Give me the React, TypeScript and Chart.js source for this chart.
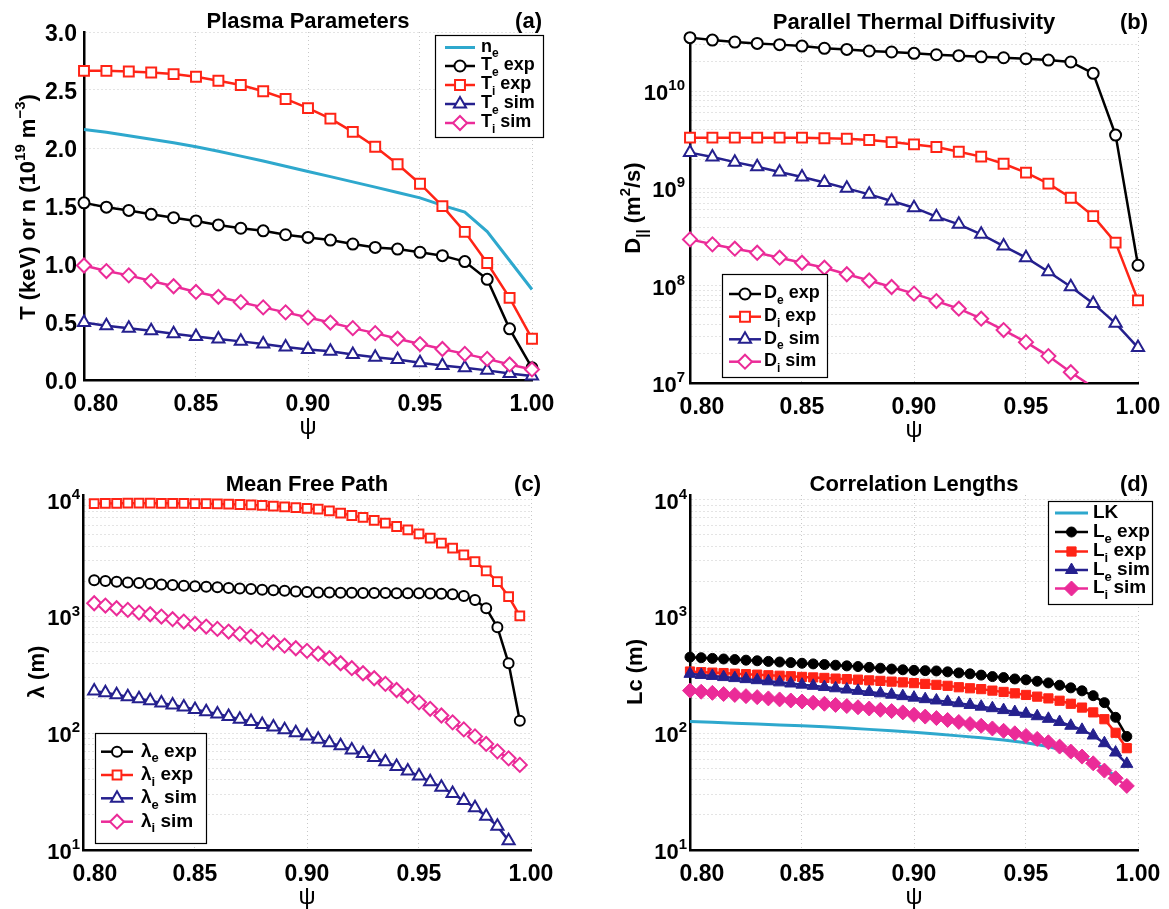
import React, { useEffect, useRef } from 'react';
import { Chart, registerables } from 'chart.js';

Chart.register(...registerables);

// ---------------- data ----------------
const psiA = [0.80, 0.81, 0.82, 0.83, 0.84, 0.85, 0.86, 0.87, 0.88, 0.89, 0.90, 0.91, 0.92, 0.93, 0.94, 0.95, 0.96, 0.97, 0.98, 0.99, 1.00];

// (a) Plasma parameters
const neA = [2.16, 2.135, 2.105, 2.075, 2.045, 2.011, 1.972, 1.93, 1.888, 1.843, 1.798, 1.753, 1.708, 1.663, 1.617, 1.57, 1.505, 1.448, 1.28, 1.03, 0.78];
const TeExpA = [1.527, 1.49, 1.462, 1.428, 1.399, 1.371, 1.337, 1.308, 1.286, 1.252, 1.229, 1.206, 1.172, 1.143, 1.129, 1.101, 1.072, 1.021, 0.868, 0.441, 0.105];
const TiExpA = [2.665, 2.665, 2.659, 2.651, 2.637, 2.614, 2.58, 2.543, 2.489, 2.423, 2.344, 2.253, 2.139, 2.011, 1.86, 1.692, 1.499, 1.277, 1.009, 0.708, 0.356];
const TeSimA = [0.495, 0.467, 0.447, 0.424, 0.398, 0.375, 0.353, 0.333, 0.31, 0.284, 0.262, 0.247, 0.219, 0.196, 0.176, 0.148, 0.125, 0.105, 0.083, 0.057, 0.034];
const TiSimA = [0.987, 0.939, 0.902, 0.853, 0.808, 0.759, 0.717, 0.671, 0.626, 0.583, 0.538, 0.495, 0.447, 0.404, 0.356, 0.31, 0.267, 0.225, 0.182, 0.134, 0.091];

// (b) Parallel thermal diffusivity
const DeExpB = [3.54e10, 3.34e10, 3.19e10, 3.09e10, 3.0e10, 2.9e10, 2.75e10, 2.68e10, 2.58e10, 2.52e10, 2.44e10, 2.36e10, 2.31e10, 2.25e10, 2.2e10, 2.15e10, 2.08e10, 1.99e10, 1.52e10, 3.53e9, 1.62e8];
const DiExpB = [3.32e9, 3.32e9, 3.32e9, 3.32e9, 3.32e9, 3.32e9, 3.27e9, 3.24e9, 3.14e9, 2.99e9, 2.83e9, 2.66e9, 2.38e9, 2.12e9, 1.79e9, 1.45e9, 1.12e9, 8.02e8, 5.19e8, 2.77e8, 7.06e7];
const DeSimB = [2.33e9, 2.1e9, 1.86e9, 1.67e9, 1.47e9, 1.31e9, 1.15e9, 1.0e9, 8.68e8, 7.41e8, 6.33e8, 5.12e8, 4.27e8, 3.37e8, 2.55e8, 1.94e8, 1.39e8, 9.77e7, 6.58e7, 4.1e7, 2.31e7];
const DiSimB = [2.99e8, 2.66e8, 2.4e8, 2.18e8, 1.94e8, 1.72e8, 1.53e8, 1.31e8, 1.13e8, 9.69e7, 8.28e7, 6.95e7, 5.8e7, 4.58e7, 3.5e7, 2.63e7, 1.89e7, 1.29e7, 9.0e6, null, null];

// (c) Mean free path
const psiC = [0.805, 0.81, 0.815, 0.82, 0.825, 0.83, 0.835, 0.84, 0.845, 0.85, 0.855, 0.86, 0.865, 0.87, 0.875, 0.88, 0.885, 0.89, 0.895, 0.90, 0.905, 0.91, 0.915, 0.92, 0.925, 0.93, 0.935, 0.94, 0.945, 0.95, 0.955, 0.96, 0.965, 0.97, 0.975, 0.98, 0.985, 0.99, 0.995];
const LeExpC = [2050, 2020, 1990, 1960, 1935, 1910, 1885, 1860, 1840, 1820, 1800, 1780, 1760, 1740, 1720, 1700, 1680, 1660, 1640, 1620, 1607, 1605, 1600, 1598, 1595, 1590, 1588, 1585, 1582, 1580, 1575, 1570, 1554, 1503, 1389, 1178, 811, 398, 128];
const LiExpC = [9300, 9320, 9340, 9350, 9350, 9350, 9340, 9330, 9310, 9290, 9260, 9220, 9180, 9120, 9040, 8950, 8840, 8720, 8580, 8440, 8318, 8050, 7690, 7340, 7060, 6660, 6310, 5910, 5530, 5110, 4690, 4250, 3850, 3380, 2960, 2460, 1995, 1485, 1014];
const LeSimC = [230, 222, 214, 206, 198, 190, 182, 175, 168, 160, 153, 146, 139, 132, 126, 119, 113, 107, 101, 95, 89, 83, 78, 72, 67, 62, 57, 52, 47.5, 43, 38.5, 34.5, 30.5, 26.5, 23, 19.5, 16, 12, null];
const LiSimC = [1300, 1242, 1178, 1140, 1082, 1047, 1000, 949, 906, 865, 821, 784, 744, 710, 674, 631, 599, 564, 535, 508, 480, 440, 398, 361, 327, 296, 265, 235, 209, 184, 162, 142, 124, 108, 94, 81, 70, 61, 53.6];

// (d) Correlation lengths
const psiD = [0.80, 0.805, 0.81, 0.815, 0.82, 0.825, 0.83, 0.835, 0.84, 0.845, 0.85, 0.855, 0.86, 0.865, 0.87, 0.875, 0.88, 0.885, 0.89, 0.895, 0.90, 0.905, 0.91, 0.915, 0.92, 0.925, 0.93, 0.935, 0.94, 0.945, 0.95, 0.955, 0.96, 0.965, 0.97, 0.975, 0.98, 0.985, 0.99, 0.995];
const psiLK = [0.80, 0.81, 0.82, 0.83, 0.84, 0.85, 0.86, 0.87, 0.88, 0.89, 0.90, 0.91, 0.92, 0.93, 0.94, 0.95, 0.96, 0.97, 0.98, 0.99];
const LKD = [126, 124, 122, 120, 118, 116, 113.5, 111, 108, 105, 102, 98.5, 95, 91.5, 87.5, 83, 77, 68.5, 57, 43];
const LeExpD = [449, 444, 438, 433, 428, 423, 418, 413, 408, 403, 398, 393, 388, 383, 378, 373, 367, 361, 355, 350, 346, 344, 342, 336, 329, 323, 315, 306, 300, 292, 287, 279, 270, 258, 245, 231, 210, 183, 137, 94];
const LiExpD = [338, 334, 331, 328, 324, 321, 318, 314, 311, 308, 304, 301, 298, 294, 291, 288, 284, 281, 277, 273, 269, 265, 260, 255, 248, 243, 239, 232, 226, 220, 213, 206, 199, 190, 179, 166, 151, 132, 101, 74.5];
const LeSimD = [323, 316, 310, 303, 297, 291, 285, 279, 273, 267, 261, 255, 249, 243, 237, 231, 226, 220, 214, 208, 202, 196, 191, 186, 181, 175, 169, 164, 158, 152, 147, 140, 133, 125, 116, 107, 95.7, 82.2, 68.4, 54.7];
const LiSimD = [232, 227, 222, 217, 213, 208, 204, 199, 195, 191, 187, 183, 179, 175, 171, 167, 163, 159, 155, 151, 144, 139, 135, 130, 125, 120, 116, 110, 105, 100, 95, 89.5, 83.8, 76.9, 69.7, 63.1, 55.3, 47.9, 41.2, 35.4];

// ticks
const xTickValues = [0.8, 0.85, 0.9, 0.95, 1.0];
const xTickLabels = ['0.80', '0.85', '0.90', '0.95', '1.00'];
const yTickValuesA = [0, 0.5, 1, 1.5, 2, 2.5, 3];
const yTickLabelsA = ['0.0', '0.5', '1.0', '1.5', '2.0', '2.5', '3.0'];
const decadesB = [7, 8, 9, 10];
const decadesCD = [1, 2, 3, 4];
const minorSteps = [1, 2, 3, 4, 5, 6, 7, 8, 9];

// ---------------- styles ----------------
const CYAN = '#2ea8cd';
const BLACK = '#000000';
const RED = '#ff2416';
const NAVY = '#25208e';
const MAGENTA = '#eb2b98';
const FONT = '"Liberation Sans", Arial, Helvetica, sans-serif';

type Seg = { t: string; sub?: boolean; sup?: boolean };

function segFont(seg: Seg, size: number, weight: string) {
  const s = seg.sub || seg.sup ? Math.round(size * 0.68) : size;
  return { font: `${weight} ${s}px ${FONT}`, s };
}

function drawRich(ctx: CanvasRenderingContext2D, segs: Seg[], x: number, yMid: number, size: number, align: string, weight = 'bold') {
  let total = 0;
  const widths = segs.map((sg) => {
    ctx.font = segFont(sg, size, weight).font;
    const w = ctx.measureText(sg.t).width;
    total += w;
    return w;
  });
  let cx = align === 'center' ? x - total / 2 : align === 'right' ? x - total : x;
  const base = yMid + size * 0.36;
  ctx.textAlign = 'left';
  ctx.textBaseline = 'alphabetic';
  segs.forEach((sg, i) => {
    ctx.font = segFont(sg, size, weight).font;
    let by = base;
    if (sg.sub) by = base + size * 0.3;
    if (sg.sup) by = base - size * 0.45;
    ctx.fillText(sg.t, cx, by);
    cx += widths[i];
  });
}

function drawMarker(ctx: CanvasRenderingContext2D, style: string, x: number, y: number, r: number, stroke: string, fill: string, lw: number) {
  if (style === 'none') return;
  ctx.save();
  ctx.beginPath();
  if (style === 'circle') ctx.arc(x, y, r, 0, Math.PI * 2);
  else if (style === 'rect') { const s = r * Math.SQRT1_2; ctx.rect(x - s, y - s, 2 * s, 2 * s); }
  else if (style === 'triangle') {
    ctx.moveTo(x, y - r);
    ctx.lineTo(x + r * Math.sin((2 * Math.PI) / 3), y - r * Math.cos((2 * Math.PI) / 3));
    ctx.lineTo(x + r * Math.sin((4 * Math.PI) / 3), y - r * Math.cos((4 * Math.PI) / 3));
    ctx.closePath();
  } else if (style === 'rectRot') {
    ctx.moveTo(x, y - r); ctx.lineTo(x + r, y); ctx.lineTo(x, y + r); ctx.lineTo(x - r, y); ctx.closePath();
  }
  ctx.fillStyle = fill;
  ctx.fill();
  ctx.lineWidth = lw;
  ctx.strokeStyle = stroke;
  ctx.stroke();
  ctx.restore();
}

type Series = { psi: number[]; vals: (number | null)[]; color: string; style: string; r: number; filled: boolean; label: Seg[]; clipBottom?: boolean; hideBelow?: number; lw?: number };

type PanelDef = {
  x: number; y: number; w: number; h: number;
  area: [number, number, number, number];
  yType: string; yMin: number; yMax: number;
  yGrid: number[]; yLabelVals: number[]; yLabels: Seg[][]; yLabelGap: number; yLabelSize: number;
  title: string; letter: string;
  yTitle: Seg[]; yTitleAt: [number, number];
  series: Series[];
  legend: { box: [number, number, number, number]; rows: number[]; sample: [number, number]; textX: number; size: number };
};

const logGrid = (decs: number[], max: number) => {
  const out: number[] = [];
  decs.forEach((d) => minorSteps.forEach((m) => { const v = m * Math.pow(10, d); if (v <= max * 1.0001) out.push(v); }));
  return out;
};
const logLabels = (decs: number[]): Seg[][] => decs.map((d) => [{ t: '10' }, { t: String(d), sup: true }]);

const sub = (a: string, b: string, c = ''): Seg[] => [{ t: a }, { t: b, sub: true }, { t: c }];

const panels: PanelDef[] = [
  {
    x: 0, y: 0, w: 584, h: 454, area: [84, 32, 532, 380],
    yType: 'linear', yMin: 0, yMax: 3,
    yGrid: yTickValuesA, yLabelVals: yTickValuesA, yLabels: yTickLabelsA.map((t) => [{ t }]), yLabelGap: 7, yLabelSize: 23,
    title: 'Plasma Parameters', letter: '(a)',
    yTitle: [{ t: 'T (keV) or n (10' }, { t: '19', sup: true }, { t: ' m' }, { t: '\u22123', sup: true }, { t: ')' }], yTitleAt: [27, 207],
    series: [
      { psi: psiA, vals: neA, color: CYAN, style: 'none', r: 0, filled: false, label: sub('n', 'e'), lw: 3 },
      { psi: psiA, vals: TeExpA, color: BLACK, style: 'circle', r: 5.5, filled: false, label: sub('T', 'e', ' exp') },
      { psi: psiA, vals: TiExpA, color: RED, style: 'rect', r: 7, filled: false, label: sub('T', 'i', ' exp') },
      { psi: psiA, vals: TeSimA, color: NAVY, style: 'triangle', r: 7, filled: false, label: sub('T', 'e', ' sim') },
      { psi: psiA, vals: TiSimA, color: MAGENTA, style: 'rectRot', r: 7, filled: false, label: sub('T', 'i', ' sim') },
    ],
    legend: { box: [435, 35, 108, 102], rows: [47.5, 66, 85, 104, 123], sample: [445, 475], textX: 481, size: 18 },
  },
  {
    x: 584, y: 0, w: 585, h: 454, area: [690, 33, 1138, 383],
    yType: 'logarithmic', yMin: 1e7, yMax: 3.95e10,
    yGrid: logGrid(decadesB, 3.95e10), yLabelVals: decadesB.map((d) => Math.pow(10, d)), yLabels: logLabels(decadesB), yLabelGap: 5, yLabelSize: 22,
    title: 'Parallel Thermal Diffusivity', letter: '(b)',
    yTitle: [{ t: 'D' }, { t: '||', sub: true }, { t: ' (m' }, { t: '2', sup: true }, { t: '/s)' }], yTitleAt: [632, 208],
    series: [
      { psi: psiA, vals: DeExpB, color: BLACK, style: 'circle', r: 5.5, filled: false, label: sub('D', 'e', ' exp') },
      { psi: psiA, vals: DiExpB, color: RED, style: 'rect', r: 7, filled: false, label: sub('D', 'i', ' exp') },
      { psi: psiA, vals: DeSimB, color: NAVY, style: 'triangle', r: 7, filled: false, label: sub('D', 'e', ' sim') },
      { psi: psiA, vals: DiSimB, color: MAGENTA, style: 'rectRot', r: 7, filled: false, label: sub('D', 'i', ' sim'), clipBottom: true, hideBelow: 1e7 },
    ],
    legend: { box: [722, 274, 105, 103], rows: [294, 316.7, 339.3, 361.7], sample: [729, 761], textX: 764, size: 18 },
  },
  {
    x: 0, y: 454, w: 584, h: 455, area: [83, 495, 531, 850],
    yType: 'logarithmic', yMin: 10, yMax: 1.1e4,
    yGrid: logGrid(decadesCD, 1.1e4), yLabelVals: decadesCD.map((d) => Math.pow(10, d)), yLabels: logLabels(decadesCD), yLabelGap: 3, yLabelSize: 22,
    title: 'Mean Free Path', letter: '(c)',
    yTitle: [{ t: '\u03bb (m)' }], yTitleAt: [36, 672],
    series: [
      { psi: psiC, vals: LeExpC, color: BLACK, style: 'circle', r: 5, filled: false, label: sub('\u03bb', 'e', ' exp') },
      { psi: psiC, vals: LiExpC, color: RED, style: 'rect', r: 6.2, filled: false, label: sub('\u03bb', 'i', ' exp') },
      { psi: psiC, vals: LeSimC, color: NAVY, style: 'triangle', r: 7, filled: false, label: sub('\u03bb', 'e', ' sim') },
      { psi: psiC, vals: LiSimC, color: MAGENTA, style: 'rectRot', r: 7, filled: false, label: sub('\u03bb', 'i', ' sim') },
    ],
    legend: { box: [95, 733, 111, 110], rows: [751.7, 775, 798.3, 821.7], sample: [101, 133], textX: 141, size: 19 },
  },
  {
    x: 584, y: 454, w: 585, h: 455, area: [690, 495, 1138, 850],
    yType: 'logarithmic', yMin: 10, yMax: 1.1e4,
    yGrid: logGrid(decadesCD, 1.1e4), yLabelVals: decadesCD.map((d) => Math.pow(10, d)), yLabels: logLabels(decadesCD), yLabelGap: 3, yLabelSize: 22,
    title: 'Correlation Lengths', letter: '(d)',
    yTitle: [{ t: 'Lc (m)' }], yTitleAt: [634, 672],
    series: [
      { psi: psiLK, vals: LKD, color: CYAN, style: 'none', r: 0, filled: true, label: [{ t: 'LK' }], lw: 3 },
      { psi: psiD, vals: LeExpD, color: BLACK, style: 'circle', r: 5, filled: true, label: sub('L', 'e', ' exp') },
      { psi: psiD, vals: LiExpD, color: RED, style: 'rect', r: 6.5, filled: true, label: sub('L', 'i', ' exp') },
      { psi: psiD, vals: LeSimD, color: NAVY, style: 'triangle', r: 7, filled: true, label: sub('L', 'e', ' sim') },
      { psi: psiD, vals: LiSimD, color: MAGENTA, style: 'rectRot', r: 7.5, filled: true, label: sub('L', 'i', ' sim') },
    ],
    legend: { box: [1048, 501, 104, 103], rows: [513, 532, 551.5, 570, 588.5], sample: [1055, 1088], textX: 1093, size: 19 },
  },
];

function makeDataset(s: Series, i: number) {
  const pts = s.psi.map((x, k) => ({ x, y: s.vals[k] })).filter((p) => p.y !== null && p.y !== undefined);
  return {
    data: pts,
    borderColor: s.color,
    backgroundColor: s.filled ? s.color : '#ffffff',
    borderWidth: s.lw || 2.5,
    tension: 0,
    pointStyle: s.style === 'none' ? 'circle' : s.style,
    pointRadius: s.style === 'none' ? 0 : (c: any) => (s.hideBelow && c.raw && c.raw.y < s.hideBelow ? 0 : s.r),
    pointBorderWidth: s.filled ? 1 : 2,
    pointBorderColor: s.color,
    pointBackgroundColor: s.filled ? s.color : '#ffffff',
    clip: s.clipBottom ? { left: false, top: false, right: false, bottom: 0 } : false,
    order: -i,
  };
}

function overlay(p: PanelDef) {
  return {
    id: 'overlay' + p.letter,
    afterDraw(chart: any) {
      const ctx: CanvasRenderingContext2D = chart.ctx;
      const ca = chart.chartArea;
      const xs = chart.scales.x;
      const ys = chart.scales.y;
      const ox = p.x;
      const oy = p.y;
      ctx.save();
      ctx.fillStyle = '#000';
      // title and panel letter
      drawRich(ctx, [{ t: p.title }], (ca.left + ca.right) / 2, ca.top - 12, 22, 'center');
      drawRich(ctx, [{ t: p.letter }], ca.right + 10, ca.top - 12, 22, 'right');
      // x tick labels
      xTickValues.forEach((v, i) => {
        let x = xs.getPixelForValue(v);
        if (i === 0) x += 12;
        drawRich(ctx, [{ t: xTickLabels[i] }], x, ca.bottom + 23, 23, 'center');
      });
      // x title
      drawRich(ctx, [{ t: '\u03c8' }], (ca.left + ca.right) / 2, ca.bottom + 45, 24, 'center', 'normal');
      // y tick labels
      p.yLabelVals.forEach((v, i) => {
        const y = ys.getPixelForValue(v);
        drawRich(ctx, p.yLabels[i], ca.left - p.yLabelGap, y + 1, p.yLabelSize, 'right');
      });
      // y title
      ctx.save();
      ctx.translate(p.yTitleAt[0] - ox, p.yTitleAt[1] - oy);
      ctx.rotate(-Math.PI / 2);
      drawRich(ctx, p.yTitle, 0, 0, 22, 'center');
      ctx.restore();
      // legend
      const lg = p.legend;
      const [bx, by, bw, bh] = lg.box;
      ctx.fillStyle = '#ffffff';
      ctx.fillRect(bx - ox, by - oy, bw, bh);
      ctx.lineWidth = 1.2;
      ctx.strokeStyle = '#000';
      ctx.strokeRect(bx - ox + 0.5, by - oy + 0.5, bw, bh);
      p.series.forEach((s, i) => {
        const ry = lg.rows[i] - oy;
        ctx.save();
        ctx.strokeStyle = s.color;
        ctx.lineWidth = s.lw || 2.5;
        ctx.beginPath();
        ctx.moveTo(lg.sample[0] - ox, ry);
        ctx.lineTo(lg.sample[1] - ox, ry);
        ctx.stroke();
        ctx.restore();
        const mx = (lg.sample[0] + lg.sample[1]) / 2 - ox;
        drawMarker(ctx, s.style, mx, ry, s.r, s.color, s.filled ? s.color : '#ffffff', s.filled ? 1 : 2);
        ctx.fillStyle = '#000';
        drawRich(ctx, s.label, lg.textX - ox, ry - 2, lg.size, 'left');
      });
      ctx.restore();
    },
  };
}

const gridOpts = { color: '#c8c8c8', lineWidth: 1, drawTicks: false };
const borderOpts = { display: true, color: '#000000', width: 2.5, dash: [1, 3] };

function Panel({ def }: { def: PanelDef }) {
  const ref = useRef<HTMLCanvasElement>(null);
  useEffect(() => {
    const canvas = ref.current as HTMLCanvasElement;
    const [l, t, r, b] = def.area;
    const chart = new Chart(canvas, {
      type: 'line',
      data: { datasets: def.series.map((s, i) => makeDataset(s, i)) as any },
      options: {
        responsive: false,
        animation: false,
        devicePixelRatio: 1,
        events: [],
        layout: { padding: { left: l - def.x, top: t - def.y, right: def.x + def.w - r, bottom: def.y + def.h - b } },
        plugins: { legend: { display: false }, tooltip: { enabled: false }, title: { display: false } },
        scales: {
          x: {
            type: 'linear', min: 0.8, max: 1.0,
            afterBuildTicks: (sc: any) => { sc.ticks = xTickValues.map((v) => ({ value: v })); },
            ticks: { display: false }, grid: gridOpts, border: borderOpts,
          },
          y: {
            type: def.yType as any, min: def.yMin, max: def.yMax,
            afterBuildTicks: (sc: any) => { sc.ticks = def.yGrid.map((v) => ({ value: v })); },
            ticks: { display: false }, grid: gridOpts, border: borderOpts,
          },
        },
      } as any,
      plugins: [overlay(def)],
    });
    return () => chart.destroy();
  }, [def]);
  return (
    <canvas
      ref={ref}
      width={def.w}
      height={def.h}
      style={{ position: 'absolute', left: def.x, top: def.y, width: def.w, height: def.h }}
    />
  );
}

export default function App() {
  return (
    <div style={{ position: 'absolute', left: 0, top: 0, width: 1169, height: 909, background: '#ffffff', overflow: 'hidden' }}>
      {panels.map((p) => (
        <Panel key={p.letter} def={p} />
      ))}
    </div>
  );
}
